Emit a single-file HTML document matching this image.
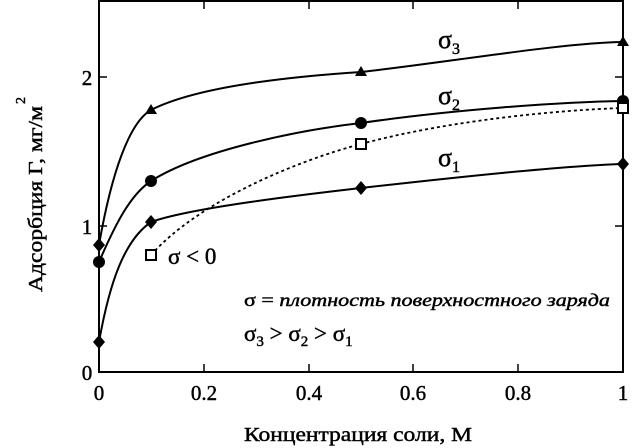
<!DOCTYPE html>
<html><head><meta charset="utf-8"><style>
body{margin:0;background:#fff}
svg{display:block}
text{font-family:"Liberation Serif",serif;fill:#000;stroke:#000;stroke-width:0.45}
</style></head><body>
<svg width="632" height="448" viewBox="0 0 632 448">
<rect x="99" y="1" width="524" height="371" fill="none" stroke="#000" stroke-width="2"/>
<g stroke="#000" stroke-width="1.5">
<line x1="204" y1="372" x2="204" y2="364"/><line x1="309" y1="372" x2="309" y2="364"/><line x1="413" y1="372" x2="413" y2="364"/><line x1="518" y1="372" x2="518" y2="364"/>
<line x1="204" y1="1" x2="204" y2="9"/><line x1="309" y1="1" x2="309" y2="9"/><line x1="413" y1="1" x2="413" y2="9"/><line x1="518" y1="1" x2="518" y2="9"/>
<line x1="99" y1="77" x2="107" y2="77"/><line x1="99" y1="226" x2="107" y2="226"/>
<line x1="623" y1="77" x2="615" y2="77"/><line x1="623" y1="226" x2="615" y2="226"/>
</g>
<g font-size="21">
<text x="99" y="400" text-anchor="middle">0</text>
<text x="204" y="400" text-anchor="middle">0.2</text>
<text x="309" y="400" text-anchor="middle">0.4</text>
<text x="413" y="400" text-anchor="middle">0.6</text>
<text x="518" y="400" text-anchor="middle">0.8</text>
<text x="623" y="400" text-anchor="middle">1</text>
<text x="87" y="380" text-anchor="middle">0</text>
<text x="87" y="234" text-anchor="middle">1</text>
<text x="87" y="85" text-anchor="middle">2</text>
</g>
<text x="244" y="441" font-size="20" textLength="228" lengthAdjust="spacingAndGlyphs">Концентрация соли, М</text>
<text transform="translate(42,292) rotate(-90)" font-size="20" textLength="186" lengthAdjust="spacingAndGlyphs">Адсорбция Г, мг/м</text>
<text transform="translate(25,104) rotate(-90)" font-size="14">2</text>
<g fill="none" stroke="#000" stroke-width="2">
<path d="M99,245 C112,170 130,122 151,110 C200,85 300,76 361,72 C450,62 560,43 623,42"/>
<path d="M99,262 C115,225 130,195 151,181 C200,150 300,130 361,123 C450,110 560,102 623,101"/>
<path d="M99,342 C110,280 125,240 151,222 C190,208 300,195 361,188 C450,178 560,166 623,164"/>
<path d="M151,255 C200,200 300,160 361,144 C450,120 560,110 623,108" stroke-dasharray="3,3" stroke-width="1.8"/>
</g>
<g fill="#000">
<path d="M99,238 l6,7 -6,7 -6,-7z"/><path d="M151,104 l6,10 -12,0z"/><path d="M361,66 l6,10 -12,0z"/><path d="M623,36 l6,10 -12,0z"/>
<circle cx="99" cy="262" r="6"/><circle cx="151" cy="181" r="6"/><circle cx="361" cy="123" r="6"/><circle cx="623" cy="101" r="6"/>
<path d="M99,335 l6,7 -6,7 -6,-7z"/><path d="M151,215 l6,7 -6,7 -6,-7z"/><path d="M361,181 l6,7 -6,7 -6,-7z"/><path d="M623,157 l6,7 -6,7 -6,-7z"/>
</g>
<g fill="#fff" stroke="#000" stroke-width="2">
<rect x="146" y="250" width="10" height="10"/><rect x="356" y="139" width="10" height="10"/><rect x="618" y="103" width="10" height="10"/>
</g>
<g font-size="26">
<text x="438" y="48">σ<tspan font-size="16" dy="6">3</tspan></text>
<text x="438" y="104">σ<tspan font-size="16" dy="6">2</tspan></text>
<text x="438" y="166">σ<tspan font-size="16" dy="6">1</tspan></text>
<text x="168" y="264" font-size="23">σ &lt; 0</text>
<text x="244" y="306" font-size="18" textLength="366" lengthAdjust="spacingAndGlyphs">σ = <tspan font-style="italic">плотность поверхностного заряда</tspan></text>
<text x="244" y="341" font-size="23">σ<tspan font-size="15" dy="5">3</tspan><tspan dy="-5"> &gt; σ</tspan><tspan font-size="15" dy="5">2</tspan><tspan dy="-5"> &gt; σ</tspan><tspan font-size="15" dy="5">1</tspan></text>
</g>
</svg>
</body></html>
